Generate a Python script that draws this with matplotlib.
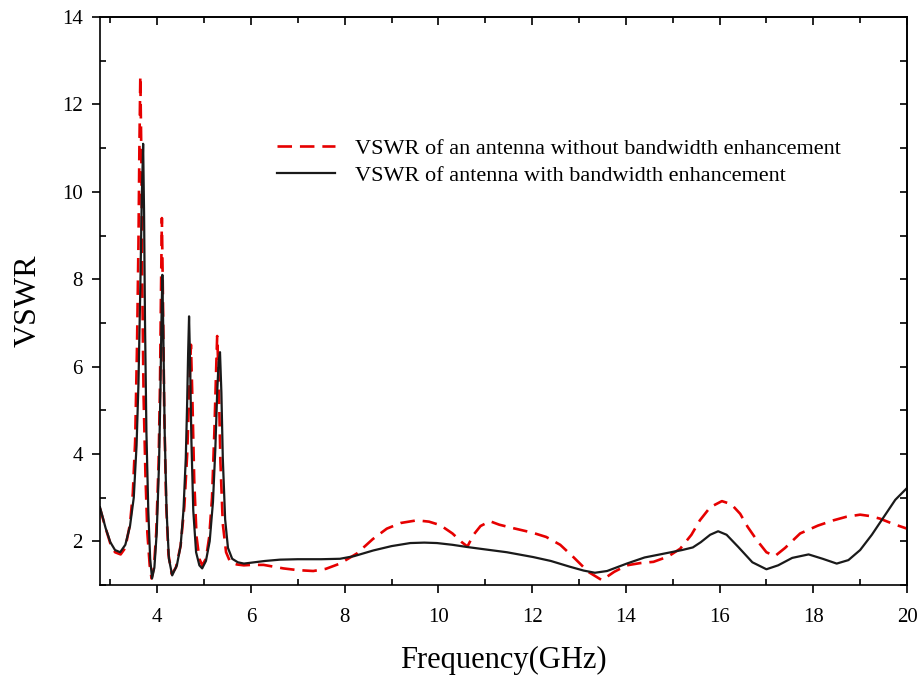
import matplotlib
matplotlib.use("Agg")
import matplotlib.pyplot as plt
from matplotlib.ticker import MultipleLocator

plt.rcParams['font.family'] = ['Liberation Serif', 'DejaVu Serif']

# Frequency (GHz) / VSWR
freq_without = [2.78, 2.9, 3.0, 3.1, 3.22, 3.32, 3.42, 3.48, 3.53, 3.57, 3.60, 3.62, 3.64, 3.66, 3.68,
                3.71, 3.75, 3.79, 3.84, 3.88, 3.93, 3.98, 4.03, 4.06, 4.08, 4.10, 4.12, 4.15, 4.19,
                4.24, 4.31, 4.40, 4.50, 4.58, 4.64, 4.68, 4.72, 4.75, 4.79, 4.84, 4.90, 4.96, 5.04,
                5.11, 5.17, 5.22, 5.26, 5.28, 5.31, 5.35, 5.40, 5.47, 5.56, 5.7, 5.85, 6.0, 6.27,
                6.69, 7.0, 7.33, 7.6, 7.9, 8.26, 8.6, 8.9, 9.2, 9.54, 9.8, 10.04, 10.3, 10.5, 10.62,
                10.75, 10.9, 11.1, 11.3, 11.6, 12.0, 12.3, 12.6, 12.88, 13.2, 13.49, 13.75, 14.02,
                14.3, 14.59, 14.9, 15.16, 15.4, 15.58, 15.8, 16.05, 16.25, 16.44, 16.6, 16.8, 17.0,
                17.18, 17.4, 17.72, 18.1, 18.43, 18.7, 19.0, 19.2, 19.42, 19.7, 20.0]
vswr_without = [2.75, 2.3, 1.95, 1.75, 1.70, 1.85, 2.4, 3.1, 4.3, 6.5, 8.8, 11.0, 12.65, 11.0, 8.0,
                5.3, 3.5, 2.2, 1.45, 1.15, 1.4, 2.2, 3.8, 5.6, 7.6, 9.4, 7.8, 5.0, 2.9,
                1.7, 1.25, 1.4, 1.9, 2.8, 4.0, 5.3, 6.5, 5.3, 3.4, 2.1, 1.6, 1.45, 1.6,
                2.1, 3.0, 4.5, 6.0, 6.7, 5.8, 3.8, 2.4, 1.75, 1.52, 1.47, 1.45, 1.46, 1.46,
                1.38, 1.34, 1.32, 1.37, 1.49, 1.72, 2.05, 2.29, 2.42, 2.48, 2.45, 2.37, 2.18, 1.98, 1.88,
                2.15, 2.35, 2.46, 2.38, 2.30, 2.2, 2.10, 1.92, 1.64, 1.3, 1.11, 1.3, 1.45,
                1.5, 1.53, 1.65, 1.83, 2.15, 2.48, 2.78, 2.92, 2.85, 2.63, 2.33, 2.02, 1.75,
                1.66, 1.85, 2.18, 2.36, 2.48, 2.56, 2.61, 2.58, 2.52, 2.40, 2.29]

freq_with = [2.78, 2.9, 3.0, 3.1, 3.21, 3.32, 3.42, 3.5, 3.56, 3.60, 3.64, 3.67, 3.70, 3.72, 3.74,
             3.77, 3.81, 3.85, 3.89, 3.94, 3.99, 4.04, 4.07, 4.09, 4.11, 4.13, 4.16, 4.20, 4.25,
             4.32, 4.42, 4.50, 4.56, 4.61, 4.64, 4.66, 4.68, 4.70, 4.73, 4.77, 4.83, 4.90, 4.96,
             5.04, 5.12, 5.19, 5.24, 5.28, 5.31, 5.34, 5.37, 5.40, 5.45, 5.51, 5.6, 5.72, 5.85,
             6.0, 6.3, 6.62, 7.0, 7.5, 7.9, 8.2, 8.61, 9.0, 9.4, 9.7, 9.97, 10.3, 10.61, 10.89,
             11.46, 12.02, 12.4, 12.8, 13.1, 13.34, 13.6, 14.02, 14.4, 14.87, 15.2, 15.43, 15.6,
             15.8, 15.97, 16.15, 16.4, 16.7, 17.0, 17.25, 17.55, 17.9, 18.2, 18.5, 18.75, 19.0,
             19.25, 19.5, 19.75, 20.0]
vswr_with = [2.78, 2.3, 1.98, 1.8, 1.75, 1.92, 2.35, 3.0, 4.2, 5.6, 7.8, 9.8, 11.1, 9.5, 7.0,
             4.5, 2.7, 1.6, 1.15, 1.4, 2.2, 3.8, 5.5, 7.0, 8.1, 6.8, 4.5, 2.7, 1.6,
             1.22, 1.45, 1.9, 2.7, 3.9, 5.2, 6.3, 7.15, 6.2, 4.3, 2.7, 1.75, 1.45, 1.38,
             1.55, 2.0, 2.9, 4.1, 5.4, 6.1, 6.33, 5.4, 3.9, 2.5, 1.85, 1.6, 1.52, 1.49,
             1.51, 1.55, 1.58, 1.59, 1.59, 1.60, 1.66, 1.79, 1.89, 1.96, 1.97, 1.96, 1.92, 1.87, 1.83,
             1.75, 1.64, 1.55, 1.42, 1.33, 1.28, 1.32, 1.49, 1.63, 1.73, 1.8, 1.86, 1.98,
             2.15, 2.23, 2.15, 1.87, 1.52, 1.36, 1.45, 1.62, 1.70, 1.6, 1.49, 1.57, 1.80,
             2.15, 2.55, 2.95, 3.22]

label_without = "VSWR of an antenna without bandwidth enhancement"
label_with = "VSWR of antenna with bandwidth enhancement"

fig = plt.figure(figsize=(9.21, 6.85), dpi=100)
ax = fig.add_axes([0.1086, 0.146, 0.8762, 0.829])

ax.plot(freq_without, vswr_without, color='#e60000', lw=1.9, dashes=(5.5, 3),
        label=label_without)
ax.plot(freq_with, vswr_with, color='#1a1a1a', lw=1.6, label=label_with)

ax.set_xlim(2.78, 20)
ax.set_ylim(1, 14)
ax.xaxis.set_major_locator(MultipleLocator(2))
ax.xaxis.set_minor_locator(MultipleLocator(1))
ax.yaxis.set_major_locator(MultipleLocator(2))
ax.yaxis.set_minor_locator(MultipleLocator(1))

for s in ax.spines.values():
    s.set_linewidth(1.2)

ax.tick_params(which='major', direction='out', length=5.5, width=1.2, labelsize=15)
ax.tick_params(which='minor', direction='in', length=4, width=1.2)
ax.tick_params(axis='x', which='major', pad=11)
ax.tick_params(axis='y', which='major', pad=7)

top = ax.secondary_xaxis('top')
top.xaxis.set_major_locator(MultipleLocator(2))
top.xaxis.set_minor_locator(MultipleLocator(1))
top.tick_params(which='both', direction='in', labeltop=False, width=1.2)
top.tick_params(which='major', length=6)
top.tick_params(which='minor', length=4)
top.spines['top'].set_linewidth(1.2)

right = ax.secondary_yaxis('right')
right.yaxis.set_major_locator(MultipleLocator(2))
right.yaxis.set_minor_locator(MultipleLocator(1))
right.tick_params(which='both', direction='in', labelright=False, width=1.2, length=5)
right.spines['right'].set_linewidth(1.2)

ax.set_xlabel("Frequency(GHz)", fontsize=22, labelpad=14)
ax.set_ylabel("VSWR", fontsize=23, labelpad=14)

ax.legend(loc='upper left', bbox_to_anchor=(0.219, 0.787), frameon=False, fontsize=16,
          handlelength=2.6, handletextpad=0.9, labelspacing=0.3, borderpad=0, borderaxespad=0)

fig.savefig("out.png", dpi=100)
